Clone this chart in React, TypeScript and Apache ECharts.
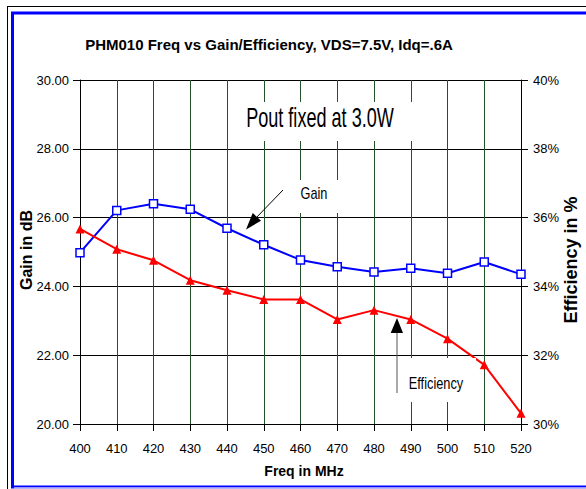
import React, { useEffect, useRef } from "react";
import * as echarts from "echarts";

const freqs = [400, 410, 420, 430, 440, 450, 460, 470, 480, 490, 500, 510, 520];
const gainDb = [24.98, 26.21, 26.4, 26.24, 25.69, 25.21, 24.77, 24.57, 24.42, 24.53, 24.38, 24.71, 24.35];
const efficiencyPct = [35.67, 35.08, 34.76, 34.18, 33.89, 33.62, 33.62, 33.04, 33.31, 33.04, 32.48, 31.72, 30.31];

const titleText = "PHM010 Freq vs Gain/Efficiency, VDS=7.5V, Idq=.6A";
const FONT = "'Liberation Sans', Arial, sans-serif";

export default function App() {
  const ref = useRef<HTMLDivElement>(null);
  useEffect(() => {
    if (!ref.current) return;
    const chart = echarts.init(ref.current, null, { renderer: "svg" });
    const labelStyle = { color: "#000", fontSize: 13, fontFamily: FONT };
    chart.setOption({
      animation: false,
      backgroundColor: "#fff",
      grid: { left: 80, right: 65, top: 80, bottom: 65 },
      xAxis: {
        type: "value",
        min: 400,
        max: 520,
        interval: 10,
        axisLine: { show: true, lineStyle: { color: "#000", width: 1 } },
        axisTick: { show: true, length: 7, lineStyle: { color: "#000" } },
        axisLabel: { ...labelStyle, margin: 18 },
        splitLine: { show: true, lineStyle: { color: "#24502a", width: 1 } },
      },
      yAxis: [
        {
          type: "value",
          min: 20,
          max: 30,
          interval: 2,
          position: "left",
          axisLine: { show: true, lineStyle: { color: "#000", width: 1 } },
          axisTick: { show: true, length: 7, lineStyle: { color: "#000" } },
          axisLabel: { ...labelStyle, margin: 11, formatter: (v: number) => v.toFixed(2) },
          splitLine: { show: true, lineStyle: { color: "#000", width: 1 } },
        },
        {
          type: "value",
          min: 30,
          max: 40,
          interval: 2,
          position: "right",
          axisLine: { show: true, lineStyle: { color: "#000", width: 1 } },
          axisTick: { show: true, length: 7, lineStyle: { color: "#000" } },
          axisLabel: { ...labelStyle, margin: 12, formatter: (v: number) => v + "%" },
          splitLine: { show: false },
        },
      ],
      series: [
        {
          name: "Gain",
          type: "line",
          yAxisIndex: 0,
          data: freqs.map((f, i) => [f, gainDb[i]]),
          lineStyle: { color: "#0000ff", width: 2 },
          symbol: "rect",
          symbolSize: 8,
          itemStyle: { color: "#ffffff", borderColor: "#0000ff", borderWidth: 1.5 },
          z: 3,
        },
        {
          name: "Efficiency",
          type: "line",
          yAxisIndex: 1,
          data: freqs.map((f, i) => [f, efficiencyPct[i]]),
          lineStyle: { color: "#ff0000", width: 2 },
          symbol: "triangle",
          symbolSize: 9,
          itemStyle: { color: "#ff0000", borderColor: "#ff0000", borderWidth: 0 },
          z: 3,
        },
      ],
      graphic: [
        { type: "line", shape: { x1: 7, y1: 6.5, x2: 586, y2: 6.5 }, style: { stroke: "#000", lineWidth: 1 }, z: 10 },
        { type: "line", shape: { x1: 7.5, y1: 6, x2: 7.5, y2: 489 }, style: { stroke: "#000", lineWidth: 1 }, z: 10 },
        { type: "rect", shape: { x: 12.5, y: 13, width: 600, height: 474 }, style: { fill: "none", stroke: "#0000ff", lineWidth: 3 }, z: 10 },
        { type: "line", shape: { x1: 14, y1: 488, x2: 586, y2: 488 }, style: { stroke: "#c8c8f8", lineWidth: 1.5 }, z: 10 },
        {
          type: "text",
          x: 269,
          y: 44,
          style: { text: titleText, fontSize: 15, fontWeight: "bold", fontFamily: FONT, fill: "#000", align: "center", verticalAlign: "middle" },
          z: 10,
        },
        {
          type: "text",
          x: 26,
          y: 250,
          rotation: Math.PI / 2,
          style: { text: "Gain in dB", fontSize: 16, fontWeight: "bold", fontFamily: FONT, fill: "#000", align: "center", verticalAlign: "middle" },
          z: 10,
        },
        {
          type: "text",
          x: 571,
          y: 260,
          rotation: Math.PI / 2,
          style: { text: "Efficiency in %", fontSize: 18, fontWeight: "bold", fontFamily: FONT, fill: "#000", align: "center", verticalAlign: "middle" },
          z: 10,
        },
        {
          type: "text",
          x: 304,
          y: 471,
          style: { text: "Freq in MHz", fontSize: 14, fontWeight: "bold", fontFamily: FONT, fill: "#000", align: "center", verticalAlign: "middle" },
          z: 10,
        },
        { type: "rect", shape: { x: 236, y: 102, width: 184, height: 39 }, style: { fill: "#fff" }, z: 5 },
        {
          type: "text",
          x: 320,
          y: 118,
          scaleX: 0.67,
          style: { text: "Pout fixed at 3.0W", fontSize: 27, fontFamily: FONT, fill: "#000", align: "center", verticalAlign: "middle" },
          z: 6,
        },
        { type: "rect", shape: { x: 284, y: 180, width: 62, height: 33 }, style: { fill: "#fff" }, z: 5 },
        {
          type: "text",
          x: 314,
          y: 193,
          scaleX: 0.75,
          style: { text: "Gain", fontSize: 17, fontFamily: FONT, fill: "#000", align: "center", verticalAlign: "middle" },
          z: 6,
        },
        { type: "line", shape: { x1: 283, y1: 190, x2: 254, y2: 220 }, style: { stroke: "#000", lineWidth: 1 }, z: 7 },
        { type: "polygon", shape: { points: [[246, 229.5], [252.7, 213], [261, 220.7]] }, style: { fill: "#000" }, z: 7 },
        { type: "rect", shape: { x: 402, y: 358, width: 74, height: 44 }, style: { fill: "#fff" }, z: 5 },
        {
          type: "text",
          x: 436,
          y: 383,
          scaleX: 0.8,
          style: { text: "Efficiency", fontSize: 16, fontFamily: FONT, fill: "#000", align: "center", verticalAlign: "middle" },
          z: 6,
        },
        { type: "line", shape: { x1: 397, y1: 393, x2: 397, y2: 330 }, style: { stroke: "#555", lineWidth: 1 }, z: 7 },
        { type: "polygon", shape: { points: [[397, 318], [390.7, 333], [403, 333]] }, style: { fill: "#000" }, z: 7 },
      ],
    });
    return () => chart.dispose();
  }, []);
  return (
    <div
      ref={ref}
      style={{ position: "fixed", left: 0, top: 0, width: 586, height: 489, background: "#fff" }}
    />
  );
}
